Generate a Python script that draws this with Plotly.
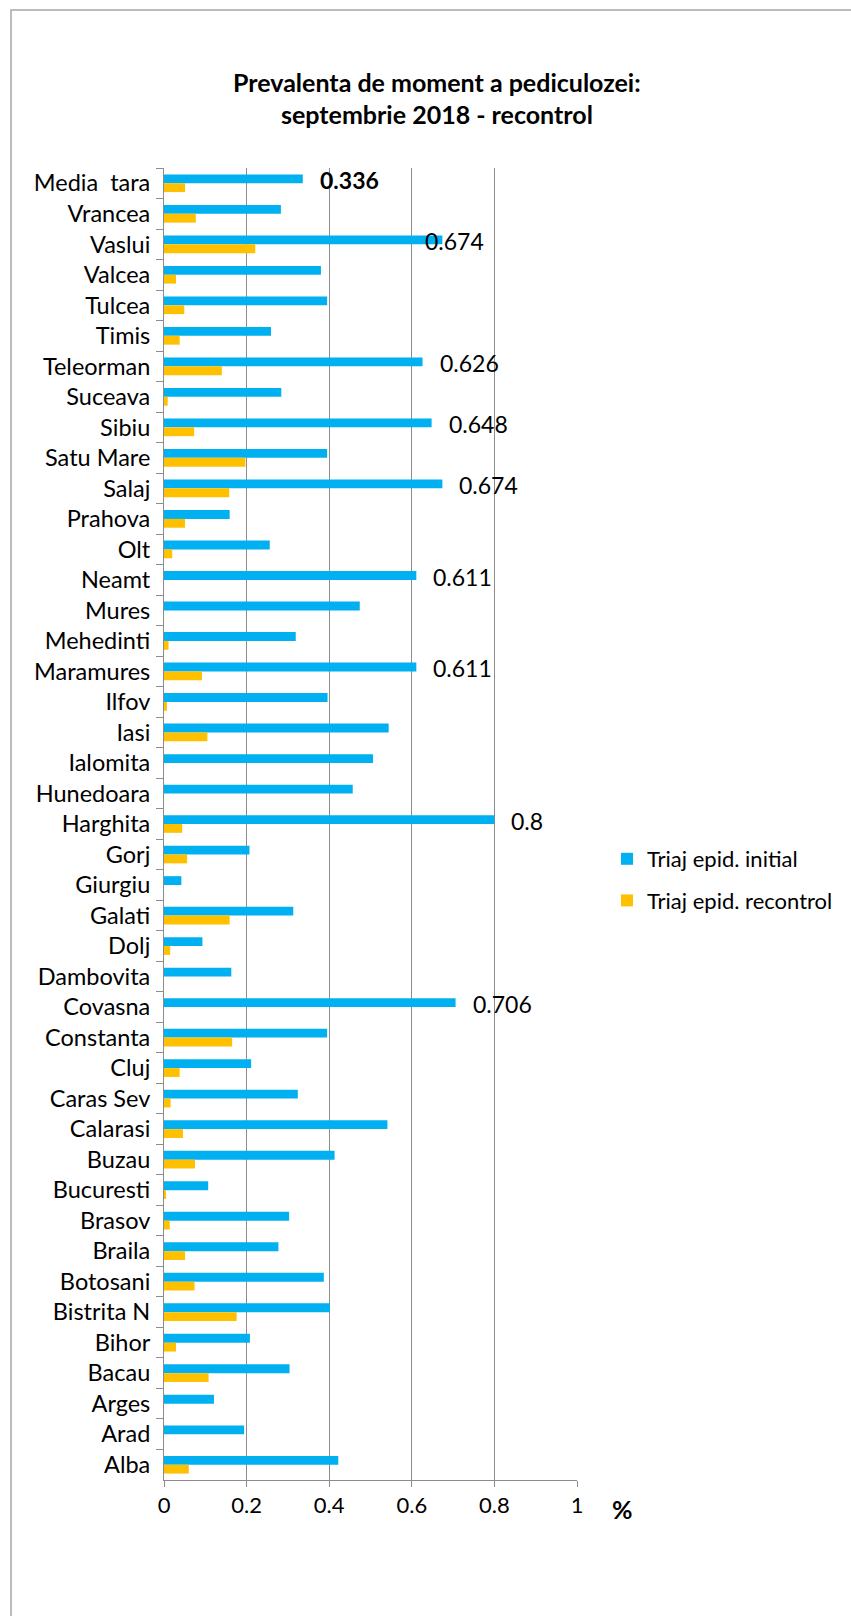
import plotly.graph_objects as go

# Counties, listed top-to-bottom as they appear on the category axis
counties = [
    "Media\u00a0 tara", "Vrancea", "Vaslui", "Valcea", "Tulcea", "Timis",
    "Teleorman", "Suceava", "Sibiu", "Satu Mare", "Salaj", "Prahova", "Olt",
    "Neamt", "Mures", "Mehedinti", "Maramures", "Ilfov", "Iasi", "Ialomita",
    "Hunedoara", "Harghita", "Gorj", "Giurgiu", "Galati", "Dolj", "Dambovita",
    "Covasna", "Constanta", "Cluj", "Caras Sev", "Calarasi", "Buzau",
    "Bucuresti", "Brasov", "Braila", "Botosani", "Bistrita N", "Bihor",
    "Bacau", "Arges", "Arad", "Alba",
]

# Prevalence (%) at the initial screening
initial = [
    0.336, 0.283, 0.674, 0.380, 0.395, 0.259,
    0.626, 0.284, 0.648, 0.395, 0.674, 0.159, 0.256,
    0.611, 0.474, 0.319, 0.611, 0.396, 0.544, 0.506,
    0.457, 0.8, 0.207, 0.042, 0.313, 0.093, 0.163,
    0.706, 0.395, 0.211, 0.324, 0.541, 0.413,
    0.107, 0.303, 0.277, 0.387, 0.402, 0.208,
    0.304, 0.121, 0.194, 0.422,
]

# Prevalence (%) at the follow-up screening
recontrol = [
    0.051, 0.077, 0.221, 0.029, 0.049, 0.038,
    0.140, 0.009, 0.073, 0.197, 0.158, 0.051, 0.020,
    0.0, 0.0, 0.011, 0.092, 0.007, 0.105, 0.0,
    0.0, 0.044, 0.056, 0.0, 0.159, 0.015, 0.0,
    0.0, 0.165, 0.038, 0.016, 0.046, 0.075,
    0.004, 0.014, 0.051, 0.074, 0.176, 0.029,
    0.108, 0.0, 0.0, 0.060,
]

# Counties whose initial value is written next to the bar
labelled = ["Media\u00a0 tara", "Vaslui", "Teleorman", "Sibiu", "Salaj",
            "Neamt", "Maramures", "Harghita", "Covasna"]

x_ticks = [0, 0.2, 0.4, 0.6, 0.8, 1]

BLUE = "#00B0F0"
GOLD = "#FFC000"
GRID = "#8C8C8C"
FONT = "Lato"

W, H = 851, 1616
L, R, T, B = 164, 577, 168, 1480  # plot area in pixels


def px_x(p):
    return (p - L) / (R - L)


def px_y(p):
    return (B - p) / (B - T)


fig = go.Figure()
fig.add_trace(go.Bar(
    y=counties, x=initial, orientation="h", name="Triaj epid. initial",
    marker=dict(color=BLUE, line=dict(width=0)), legendgroup="a",
))
fig.add_trace(go.Bar(
    y=counties, x=recontrol, orientation="h", name="Triaj epid. recontrol",
    marker=dict(color=GOLD, line=dict(width=0)), legendgroup="b",
))

annotations = []
for name in labelled:
    v = initial[counties.index(name)]
    bold = name.startswith("Media")
    shift = -19 if name == "Vaslui" else 15
    annotations.append(dict(
        x=v, y=name, xref="x", yref="y", xanchor="left", yanchor="middle",
        xshift=shift, yshift=3, showarrow=False,
        text=f"<b>{v:g}</b>" if bold else f"{v:g}",
        font=dict(family=FONT, size=23, color="black"),
    ))

# Two-line chart title
annotations.append(dict(
    x=px_x(437), y=px_y(82), xref="paper", yref="paper", showarrow=False,
    xanchor="center", yanchor="middle",
    text="<b>Prevalenta de moment a pediculozei:</b>",
    font=dict(family=FONT, size=25, color="black"),
))
annotations.append(dict(
    x=px_x(437), y=px_y(114), xref="paper", yref="paper", showarrow=False,
    xanchor="center", yanchor="middle",
    text="<b>septembrie 2018 - recontrol</b>",
    font=dict(family=FONT, size=25, color="black"),
))
# Unit label next to the value axis
annotations.append(dict(
    x=px_x(622), y=px_y(1509), xref="paper", yref="paper", showarrow=False,
    xanchor="center", yanchor="middle", text="<b>%</b>",
    font=dict(family=FONT, size=25, color="black"),
))

fig.update_layout(
    width=W, height=H,
    margin=dict(l=L, r=W - R, t=T, b=H - B, pad=0),
    paper_bgcolor="white", plot_bgcolor="white",
    barmode="group", bargap=0.42, bargroupgap=0,
    font=dict(family=FONT, size=22, color="black"),
    showlegend=True,
    legend=dict(
        x=px_x(607), y=px_y(838), xanchor="left", yanchor="top",
        traceorder="grouped", tracegroupgap=10,
        font=dict(family=FONT, size=22, color="black"),
        bgcolor="rgba(0,0,0,0)",
    ),
    annotations=annotations,
    shapes=[dict(
        type="rect", xref="paper", yref="paper",
        x0=px_x(11), x1=px_x(880), y0=px_y(10), y1=px_y(1660),
        line=dict(color="#A6A6A6", width=1.5), fillcolor="rgba(0,0,0,0)",
        layer="below",
    )],
)

fig.update_xaxes(
    range=[0, 1], tickvals=x_ticks, ticktext=[f"{t:g}" for t in x_ticks],
    showgrid=True, gridcolor=GRID, gridwidth=1,
    showline=True, linecolor=GRID, linewidth=1,
    ticks="outside", ticklen=6, tickcolor=GRID,
    zeroline=False, tickfont=dict(family=FONT, size=22, color="black"),
)
fig.update_yaxes(
    type="category", categoryorder="array", categoryarray=counties,
    autorange="reversed",
    showline=True, linecolor=GRID, linewidth=1,
    ticks="outside", ticklen=7, tickcolor=GRID, tickson="boundaries",
    showgrid=False, ticklabelstandoff=8,
    tickfont=dict(family=FONT, size=23.5, color="black"),
)

fig.write_html("out.html")
